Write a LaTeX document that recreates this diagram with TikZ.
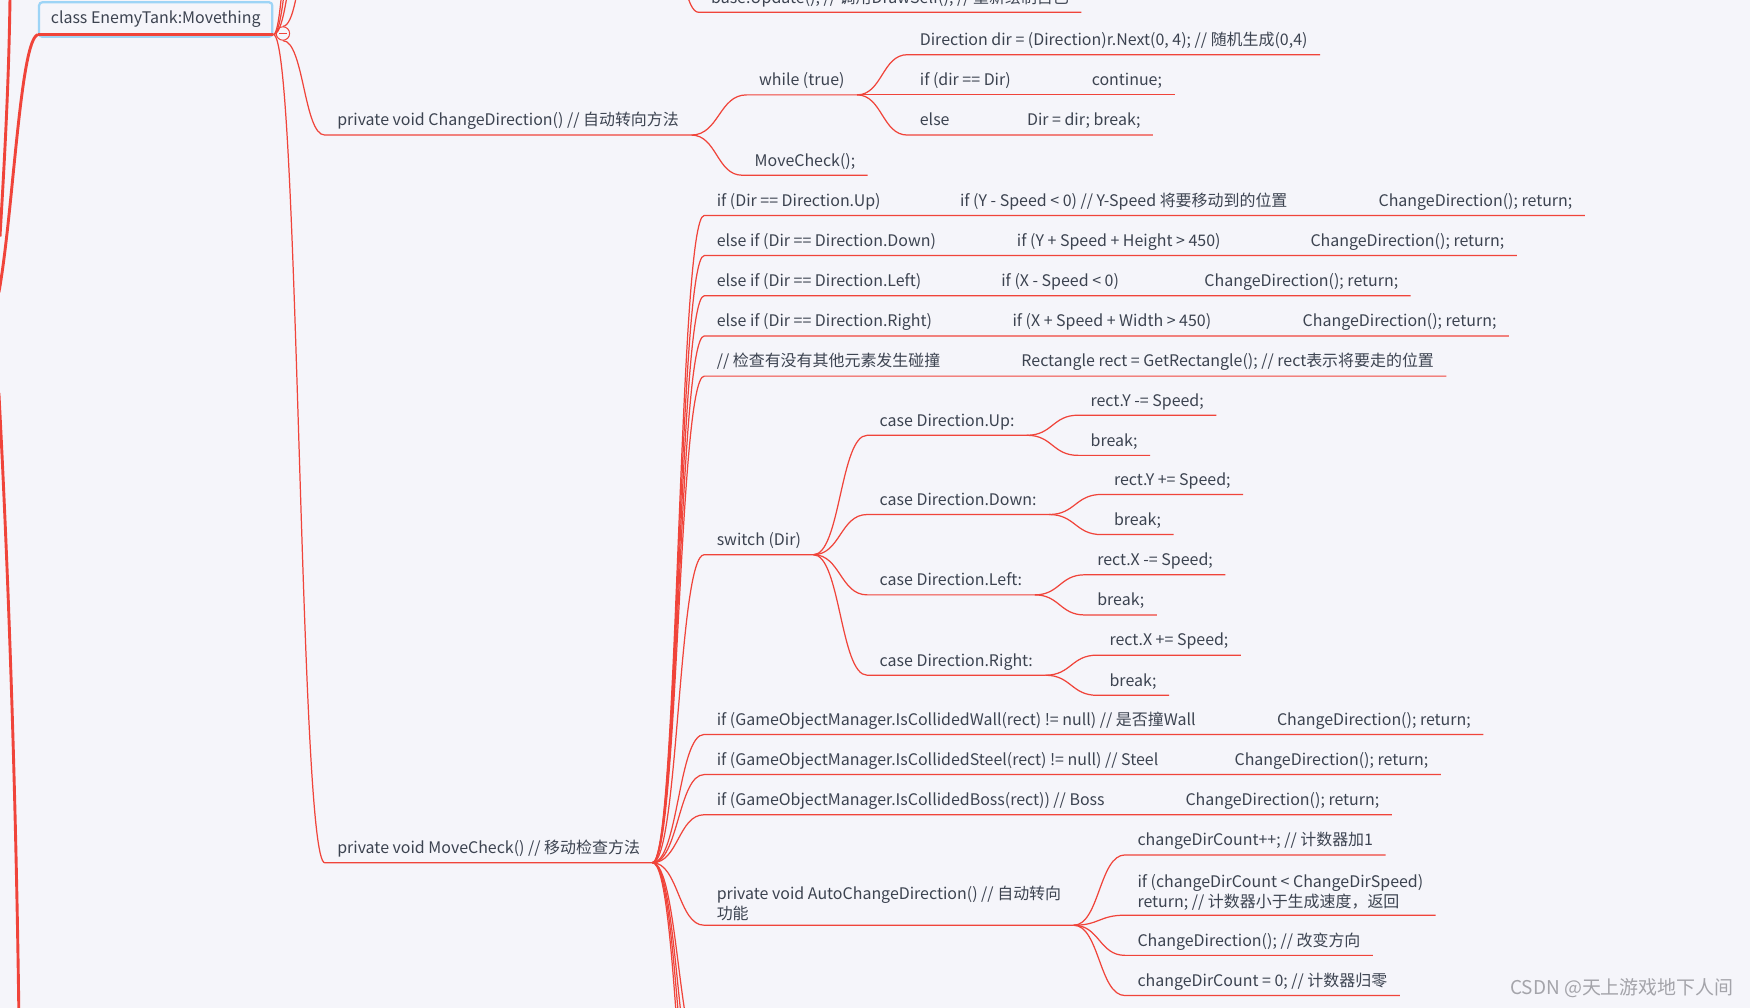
\documentclass[tikz,border=0pt]{standalone}
\usepackage{fontspec}
\setmainfont{Noto Sans CJK SC}
\usetikzlibrary{calc}
\definecolor{paper}{HTML}{F5F5FA}
\definecolor{ink}{HTML}{3C4350}
\definecolor{brick}{HTML}{F0443A}
\definecolor{sky}{HTML}{9DD4F6}
\definecolor{faint}{HTML}{A4A4AA}

\begin{document}
\begin{tikzpicture}[
  x=1pt, y=-1pt,
  topic/.style={anchor=south west,inner xsep=11pt,inner ysep=4pt,text depth=4pt,text=ink,font=\fontsize{14.3}{18}\selectfont},
  twoline/.style={anchor=south west,inner xsep=11pt,inner ysep=4pt,align=left,text=ink,font=\fontsize{14.3}{18}\selectfont},
  rootbox/.style={draw=sky,line width=2pt,rounded corners=3pt,fill=paper,minimum width=209pt,minimum height=31pt,text=ink,font=\fontsize{14.3}{18}\selectfont},
  foldmark/.style={circle,draw=brick,line width=0.9pt,fill=paper,minimum size=12pt,inner sep=0pt},
  branch/.style={draw=brick,line width=1.1pt,to path={let \p1=(\tikztostart),\p2=(\tikztotarget) in .. controls ({(\x1+\x2)/2},\y1) and ({(\x1+\x2)/2},\y2) .. (\tikztotarget)}},
  trunk/.style={draw=brick,line width=2.6pt},
  watermark/.style={text=faint,font=\fontsize{17}{20}\selectfont}
]
\useasboundingbox (0,0) rectangle (1568,903);
\clip (0,0) rectangle (1568,903);
\fill[paper] (0,0) rectangle (1568,903);

\node[rootbox] (root) at (139.5,17.5) {\raisebox{-2pt}{class EnemyTank:Movething}};
\node[foldmark] (fold) at (253.5,30) {};
\node[topic] (upd) at (626,11) {base.Update(); // 调用DrawSelf(); // 重新绘制自己};
\node[topic] (chg) at (291,121) {private void ChangeDirection() // 自动转向方法};
\node[topic] (loop) at (669,85) {while (true)};
\node[topic] (pick) at (813,49) {Direction dir = (Direction)r.Next(0, 4); // 随机生成(0,4)};
\node[topic] (same) at (813,85) {if (dir == Dir)};
\node[topic] (skip) at (967,85) {continue;};
\node[topic] (other) at (813,121) {else};
\node[topic] (keep) at (909,121) {Dir = dir; break;};
\node[topic] (again) at (665,157) {MoveCheck();};
\node[topic] (mchk) at (291,773) {private void MoveCheck() // 移动检查方法};
\node[topic] (isup) at (631,193) {if (Dir == Direction.Up)};
\node[topic] (upy) at (849,193) {if (Y - Speed < 0) // Y-Speed 将要移动到的位置};
\node[topic] (upr) at (1224,193) {ChangeDirection(); return;};
\node[topic] (isdown) at (631,229) {else if (Dir == Direction.Down)};
\node[topic] (downy) at (900,229) {if (Y + Speed + Height > 450)};
\node[topic] (downr) at (1163,229) {ChangeDirection(); return;};
\node[topic] (isleft) at (631,265) {else if (Dir == Direction.Left)};
\node[topic] (leftx) at (886,265) {if (X - Speed < 0)};
\node[topic] (leftr) at (1068,265) {ChangeDirection(); return;};
\node[topic] (isright) at (631,301) {else if (Dir == Direction.Right)};
\node[topic] (rightx) at (896,301) {if (X + Speed + Width > 450)};
\node[topic] (rightr) at (1156,301) {ChangeDirection(); return;};
\node[topic] (hit) at (631,337) {// 检查有没有其他元素发生碰撞};
\node[topic] (rect) at (904,337) {Rectangle rect = GetRectangle(); // rect表示将要走的位置};
\node[topic] (sw) at (631,497) {switch (Dir)};
\node[topic] (caseup) at (777,390) {case Direction.Up:};
\node[topic] (yminus) at (966,372) {rect.Y -= Speed;};
\node[topic] (brup) at (966,408) {break;};
\node[topic] (casedown) at (777,461) {case Direction.Down:};
\node[topic] (yplus) at (987,443) {rect.Y += Speed;};
\node[topic] (brdown) at (987,479) {break;};
\node[topic] (caseleft) at (777,533) {case Direction.Left:};
\node[topic] (xminus) at (972,515) {rect.X -= Speed;};
\node[topic] (brleft) at (972,551) {break;};
\node[topic] (caseright) at (777,605) {case Direction.Right:};
\node[topic] (xplus) at (983,587) {rect.X += Speed;};
\node[topic] (brright) at (983,623) {break;};
\node[topic] (wall) at (631,658) {if (GameObjectManager.IsCollidedWall(rect) != null) // 是否撞Wall};
\node[topic] (wallr) at (1133,658) {ChangeDirection(); return;};
\node[topic] (steel) at (631,694) {if (GameObjectManager.IsCollidedSteel(rect) != null) // Steel};
\node[topic] (steelr) at (1095,694) {ChangeDirection(); return;};
\node[topic] (boss) at (631,730) {if (GameObjectManager.IsCollidedBoss(rect)) // Boss};
\node[topic] (bossr) at (1051,730) {ChangeDirection(); return;};
\node[twoline] (auto) at (631,829) {private void AutoChangeDirection() // 自动转向\\功能};
\node[topic] (count) at (1008,766) {changeDirCount++; // 计数器加1};
\node[twoline] (early) at (1008,820) {if (changeDirCount < ChangeDirSpeed)\\return; // 计数器小于生成速度，返回};
\node[topic] (turn) at (1008,856) {ChangeDirection(); // 改变方向};
\node[topic] (reset) at (1008,892) {changeDirCount = 0; // 计数器归零};
\node[watermark,anchor=east] (credit) at (1557,885) {CSDN @天上游戏地下人间};

\coordinate (stem) at ([yshift=3pt]root.south east);
\coordinate (upA) at (291,-260);
\coordinate (upB) at (291,-500);
\coordinate (upC) at (291,-900);
\coordinate (upD) at (291,-120);
\coordinate (updsrc) at (583,-150);
\coordinate (downA) at (631,955);
\coordinate (downB) at (631,1000);
\coordinate (downC) at (631,1045);
\coordinate (downD) at (631,1100);
\coordinate (gl1) at (9,-5);
\coordinate (gl2) at (0,212);
\coordinate (gl3) at (-1,262);
\coordinate (gl4) at (-1,352);
\coordinate (gl5) at (17,915);

\draw[trunk] (gl1) .. controls (8,80) and (3,160) .. (gl2);
\draw[trunk] (gl3) .. controls (12,190) and (18,35) .. ([yshift=3pt]root.south west);
\draw[trunk] (gl4) .. controls (10,560) and (15,760) .. (gl5);
\draw[brick,line width=2pt] ([yshift=3pt]root.south west) -- (stem);
\draw[branch] (stem) to (upA);
\draw[branch] (stem) to (upB);
\draw[branch] (stem) to (upC);
\draw[branch] (fold.north) to (upD);
\draw[brick,line width=1.2pt] ([xshift=-3.5pt]fold.center) -- ([xshift=3.5pt]fold.center);
\draw[branch] (updsrc) to (upd.south west) -- (upd.south east);
\draw[branch] (fold.south) to (chg.south west) -- (chg.south east);
\draw[branch] (chg.south east) to (loop.south west) -- (loop.south east);
\draw[branch] (loop.south east) to (pick.south west) -- (pick.south east);
\draw[branch] (loop.south east) to (same.south west) -- (skip.south east);
\draw[branch] (loop.south east) to (other.south west) -- (keep.south east);
\draw[branch] (chg.south east) to (again.south west) -- (again.south east);
\draw[branch] (stem) to (mchk.south west) -- (mchk.south east);
\draw[branch] (mchk.south east) to (isup.south west) -- (upr.south east);
\draw[branch] (mchk.south east) to (isdown.south west) -- (downr.south east);
\draw[branch] (mchk.south east) to (isleft.south west) -- (leftr.south east);
\draw[branch] (mchk.south east) to (isright.south west) -- (rightr.south east);
\draw[branch] (mchk.south east) to (hit.south west) -- (rect.south east);
\draw[branch] (mchk.south east) to (sw.south west) -- (sw.south east);
\draw[branch] (sw.south east) to (caseup.south west) -- (caseup.south east);
\draw[branch] (caseup.south east) to (yminus.south west) -- (yminus.south east);
\draw[branch] (caseup.south east) to (brup.south west) -- (brup.south east);
\draw[branch] (sw.south east) to (casedown.south west) -- (casedown.south east);
\draw[branch] (casedown.south east) to (yplus.south west) -- (yplus.south east);
\draw[branch] (casedown.south east) to (brdown.south west) -- (brdown.south east);
\draw[branch] (sw.south east) to (caseleft.south west) -- (caseleft.south east);
\draw[branch] (caseleft.south east) to (xminus.south west) -- (xminus.south east);
\draw[branch] (caseleft.south east) to (brleft.south west) -- (brleft.south east);
\draw[branch] (sw.south east) to (caseright.south west) -- (caseright.south east);
\draw[branch] (caseright.south east) to (xplus.south west) -- (xplus.south east);
\draw[branch] (caseright.south east) to (brright.south west) -- (brright.south east);
\draw[branch] (mchk.south east) to (wall.south west) -- (wallr.south east);
\draw[branch] (mchk.south east) to (steel.south west) -- (steelr.south east);
\draw[branch] (mchk.south east) to (boss.south west) -- (bossr.south east);
\draw[branch] (mchk.south east) to (auto.south west) -- (auto.south east);
\draw[branch] (auto.south east) to (count.south west) -- (count.south east);
\draw[branch] (auto.south east) to (early.south west) -- (early.south east);
\draw[branch] (auto.south east) to (turn.south west) -- (turn.south east);
\draw[branch] (auto.south east) to (reset.south west) -- (reset.south east);
\draw[branch] (mchk.south east) to (downA);
\draw[branch] (mchk.south east) to (downB);
\draw[branch] (mchk.south east) to (downC);
\draw[branch] (mchk.south east) to (downD);
\end{tikzpicture}
\end{document}
